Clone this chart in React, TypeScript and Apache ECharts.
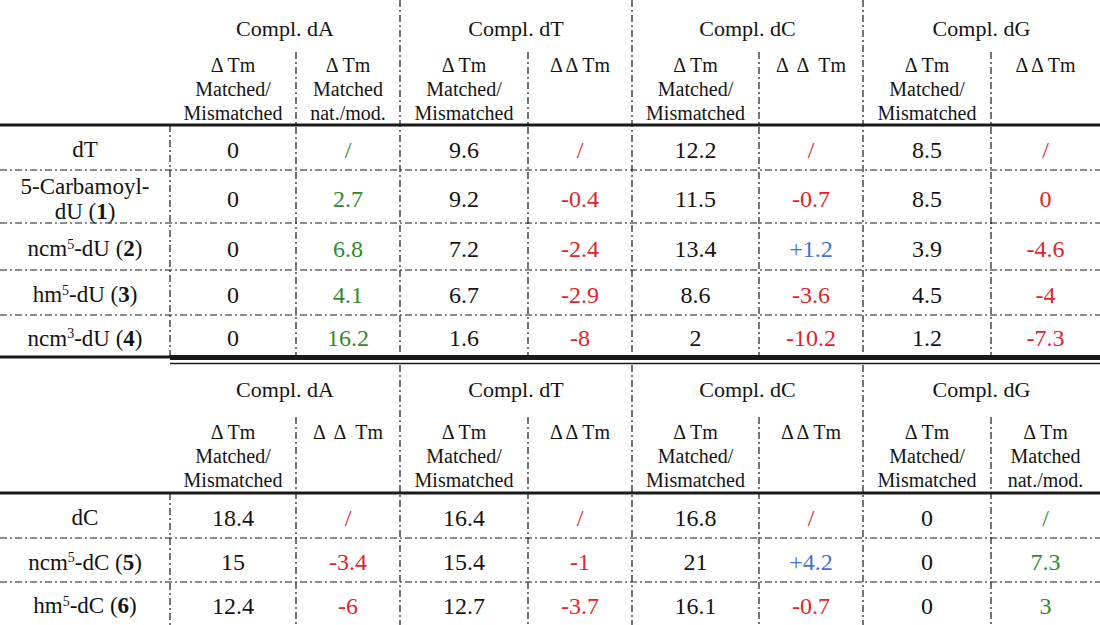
import React, { useEffect, useRef } from "react";
import * as echarts from "echarts";

// ---------- data ----------
const groups = ["Compl. dA", "Compl. dT", "Compl. dC", "Compl. dG"];

const subMM = "Δ Tm\nMatched/\nMismatched";
const subNat = "Δ Tm\nMatched\nnat./mod.";
const subTopHeaders = [subMM, subNat, subMM, "Δ Δ Tm", subMM, "Δ  Δ  Tm", subMM, "Δ Δ Tm"];
const subBottomHeaders = [subMM, "Δ  Δ  Tm", subMM, "Δ Δ Tm", subMM, "Δ Δ Tm", subMM, subNat];

// column kinds: mm = matched/mismatched, nat = nat./mod., dd = ΔΔTm
const topKinds = ["mm", "nat", "mm", "dd", "mm", "dd", "mm", "dd"];
const bottomKinds = ["mm", "dd", "mm", "dd", "mm", "dd", "mm", "nat"];

const topLabels = [
  "{n|dT}",
  "{n|5-Carbamoyl-}\n{n|dU (}{b|1}{n|)}",
  "{n|ncm}{s|5}{n|-dU (}{b|2}{n|)}",
  "{n|hm}{s|5}{n|-dU (}{b|3}{n|)}",
  "{n|ncm}{s|3}{n|-dU (}{b|4}{n|)}",
];
const topDA_mm = [0, 0, 0, 0, 0];
const topDA_nat = [null, 2.7, 6.8, 4.1, 16.2];
const topDT_mm = [9.6, 9.2, 7.2, 6.7, 1.6];
const topDT_dd = [null, -0.4, -2.4, -2.9, -8];
const topDC_mm = [12.2, 11.5, 13.4, 8.6, 2];
const topDC_dd = [null, -0.7, 1.2, -3.6, -10.2];
const topDG_mm = [8.5, 8.5, 3.9, 4.5, 1.2];
const topDG_dd = [null, 0, -4.6, -4, -7.3];

const bottomLabels = [
  "{n|dC}",
  "{n|ncm}{s|5}{n|-dC (}{b|5}{n|)}",
  "{n|hm}{s|5}{n|-dC (}{b|6}{n|)}",
];
const botDA_mm = [18.4, 15, 12.4];
const botDA_dd = [null, -3.4, -6];
const botDT_mm = [16.4, 15.4, 12.7];
const botDT_dd = [null, -1, -3.7];
const botDC_mm = [16.8, 21, 16.1];
const botDC_dd = [null, 4.2, -0.7];
const botDG_mm = [0, 0, 0];
const botDG_nat = [null, 7.3, 3];

const topColumns = [topDA_mm, topDA_nat, topDT_mm, topDT_dd, topDC_mm, topDC_dd, topDG_mm, topDG_dd];
const bottomColumns = [botDA_mm, botDA_dd, botDT_mm, botDT_dd, botDC_mm, botDC_dd, botDG_mm, botDG_nat];

// ---------- layout (pixel-unit axes) ----------
const W = 1100;
const H = 625;
const colEdges = [0, 170, 296, 400, 528, 632, 759, 863, 991, 1100];

const sections = [
  {
    labels: topLabels, columns: topColumns, kinds: topKinds, subs: subTopHeaders,
    groupY: 28, subTop: 53, headerLine: 125, rowEdges: [125, 170, 223, 270, 315, 357],
    vTop: 0, subVTop: 52, bottom: 356,
  },
  {
    labels: bottomLabels, columns: bottomColumns, kinds: bottomKinds, subs: subBottomHeaders,
    groupY: 389, subTop: 420, headerLine: 493, rowEdges: [493, 538, 582, 625],
    vTop: 365, subVTop: 417, bottom: 625,
  },
];

const FONT = "Liberation Serif";
const BLACK = "#141414";
const GREEN = "#2f8a2f";
const RED = "#e2242a";
const BLUE = "#3f72d9";

function fmt(v: number | null, kind: string): string {
  if (v === null) return "/";
  if (kind === "dd" && v > 0) return "+" + v;
  return String(v);
}
function colorOf(v: number | null, kind: string): string {
  if (kind === "mm") return BLACK;
  if (kind === "nat") return GREEN;
  if (v !== null && v > 0) return BLUE;
  return RED;
}

type TextItem = { x: number; y: number; text: string; color: string; size: number; vAlign: string; lh: number; rich?: boolean };
type LineItem = { x1: number; y1: number; x2: number; y2: number; w: number; dash: boolean };

function buildTexts(): TextItem[] {
  const out: TextItem[] = [];
  sections.forEach((s) => {
    groups.forEach((g, gi) => {
      const x = (colEdges[1 + gi * 2] + colEdges[3 + gi * 2]) / 2;
      out.push({ x, y: s.groupY, text: g, color: BLACK, size: 22, vAlign: "middle", lh: 24 });
    });
    s.subs.forEach((t, ci) => {
      const x = (colEdges[ci + 1] + colEdges[ci + 2]) / 2;
      out.push({ x, y: s.subTop, text: t, color: BLACK, size: 20, vAlign: "top", lh: 24 });
    });
    s.labels.forEach((lab, ri) => {
      const y = (s.rowEdges[ri] + s.rowEdges[ri + 1]) / 2 + 2;
      out.push({ x: (colEdges[0] + colEdges[1]) / 2, y, text: lab, color: BLACK, size: 23, vAlign: "middle", lh: 25, rich: true });
      s.columns.forEach((col, ci) => {
        const v = col[ri];
        const kind = s.kinds[ci];
        out.push({
          x: (colEdges[ci + 1] + colEdges[ci + 2]) / 2, y, text: fmt(v, kind),
          color: colorOf(v, kind), size: 24, vAlign: "middle", lh: 26,
        });
      });
    });
  });
  return out;
}

function buildLines(): LineItem[] {
  const out: LineItem[] = [];
  sections.forEach((s) => {
    out.push({ x1: 0, y1: s.headerLine, x2: W, y2: s.headerLine, w: 3, dash: false });
    for (let i = 1; i < s.rowEdges.length - 1; i++) {
      out.push({ x1: 0, y1: s.rowEdges[i], x2: W, y2: s.rowEdges[i], w: 1.2, dash: true });
    }
    out.push({ x1: colEdges[1], y1: s.headerLine, x2: colEdges[1], y2: s.bottom, w: 1.2, dash: true });
    [3, 5, 7].forEach((i) => out.push({ x1: colEdges[i], y1: s.vTop, x2: colEdges[i], y2: s.bottom, w: 1.2, dash: true }));
    [2, 4, 6, 8].forEach((i) => out.push({ x1: colEdges[i], y1: s.subVTop, x2: colEdges[i], y2: s.bottom, w: 1.2, dash: true }));
  });
  out.push({ x1: 0, y1: 357, x2: colEdges[1], y2: 357, w: 3, dash: false });
  out.push({ x1: colEdges[1], y1: 357.5, x2: W, y2: 357.5, w: 5, dash: false });
  out.push({ x1: colEdges[1], y1: 363.5, x2: W, y2: 363.5, w: 1.5, dash: false });
  return out;
}

export default function App() {
  const ref = useRef<HTMLDivElement>(null);
  useEffect(() => {
    document.body.style.margin = "0";
    if (!ref.current) return;
    const chart = echarts.init(ref.current, undefined, { renderer: "svg" });
    const texts = buildTexts();
    const lines = buildLines();
    const rich = {
      n: { fontSize: 23, fontFamily: FONT, color: BLACK, lineHeight: 25 },
      s: { fontSize: 14, fontFamily: FONT, color: BLACK, lineHeight: 25, verticalAlign: "top", padding: [1, 0, 0, 0] },
      b: { fontSize: 23, fontFamily: FONT, color: BLACK, lineHeight: 25, fontWeight: "bold" },
    };
    chart.setOption({
      animation: false,
      backgroundColor: "#ffffff",
      textStyle: { fontFamily: FONT },
      grid: { left: 0, right: 0, top: 0, bottom: 0 },
      xAxis: { type: "value", min: 0, max: W, show: false },
      yAxis: { type: "value", min: 0, max: H, inverse: true, show: false },
      series: [
        {
          type: "custom",
          clip: false,
          silent: true,
          data: lines.map((l) => [l.x1, l.y1, l.x2, l.y2]),
          renderItem: (params: any, api: any) => {
            const l = lines[params.dataIndex];
            const p1 = api.coord([api.value(0), api.value(1)]);
            const p2 = api.coord([api.value(2), api.value(3)]);
            return {
              type: "line",
              shape: { x1: p1[0], y1: p1[1], x2: p2[0], y2: p2[1] },
              style: { stroke: "#1a1a1a", lineWidth: l.w, lineDash: l.dash ? [7, 3, 2, 3] : null },
            };
          },
        },
        {
          type: "custom",
          clip: false,
          silent: true,
          data: texts.map((t) => [t.x, t.y]),
          renderItem: (params: any, api: any) => {
            const t = texts[params.dataIndex];
            const p = api.coord([api.value(0), api.value(1)]);
            const style: any = {
              text: t.text,
              fill: t.color,
              font: t.size + "px " + FONT,
              fontSize: t.size,
              fontFamily: FONT,
              align: "center",
              verticalAlign: t.vAlign,
              lineHeight: t.lh,
            };
            if (t.rich) style.rich = rich;
            return { type: "text", x: p[0], y: p[1], style };
          },
        },
      ],
    });
    return () => chart.dispose();
  }, []);
  return <div ref={ref} style={{ width: W, height: H, position: "absolute", left: 0, top: 0 }} />;
}
